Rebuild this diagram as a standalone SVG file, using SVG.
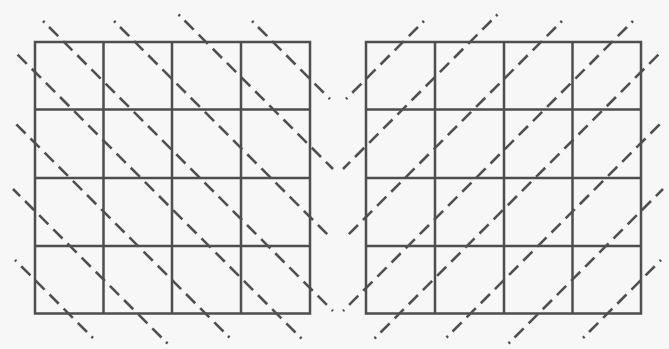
<svg xmlns="http://www.w3.org/2000/svg" xmlns:xlink="http://www.w3.org/1999/xlink" width="669" height="349" viewBox="0 0 669 349">
<style>
.grid{fill:none;stroke:#4e4e4e;stroke-width:2.5;stroke-linecap:square}
.dash{fill:none;stroke:#505050;stroke-width:2.6;stroke-dasharray:13 7;stroke-linecap:butt}
.dot{fill:none;stroke:#505050;stroke-width:2.6;stroke-linecap:butt}
</style>
<rect width="669" height="349" fill="#f7f7f7"/>
<g id="grid-left">
<path class="grid" d="M35,42H310V313.5H35Z M103.5,42V313.5 M172,42V313.5 M241,42V313.5 M35,109.5H310 M35,178H310 M35,246H310"/>
</g>
<g id="grid-right">
<path class="grid" d="M366,42H641V313.5H366Z M435,42V313.5 M504,42V313.5 M572.5,42V313.5 M366,109.5H641 M366,178H641 M366,246H641"/>
</g>
<g id="connectors">
<g id="lines-left">
<line class="dot" x1="43" y1="21" x2="44.5" y2="22.5"/>
<path class="dash" d="M49,27L333,311"/>
<line class="dot" x1="114" y1="21" x2="115.5" y2="22.5"/>
<path class="dash" d="M120,27L332,239"/>
<line class="dot" x1="178.5" y1="14.5" x2="180" y2="16"/>
<path class="dash" d="M184.5,20.5L333,169"/>
<line class="dot" x1="252" y1="21" x2="253.5" y2="22.5"/>
<path class="dash" d="M258,27L330,99"/>
<line class="dot" x1="301.5" y1="338.5" x2="300" y2="337"/>
<path class="dash" d="M295.5,332.5L13,50"/>
<line class="dot" x1="229.5" y1="337.5" x2="228" y2="336"/>
<path class="dash" d="M223.5,331.5L13.5,121.5"/>
<line class="dot" x1="167.5" y1="343.5" x2="166" y2="342"/>
<path class="dash" d="M161.5,337.5L13,189"/>
<line class="dot" x1="93" y1="338" x2="91.5" y2="336.5"/>
<path class="dash" d="M87,332L15,260"/>
</g>
<use id="lines-right" href="#lines-left" xlink:href="#lines-left" transform="translate(676,0) scale(-1,1)"/>
</g>
</svg>
